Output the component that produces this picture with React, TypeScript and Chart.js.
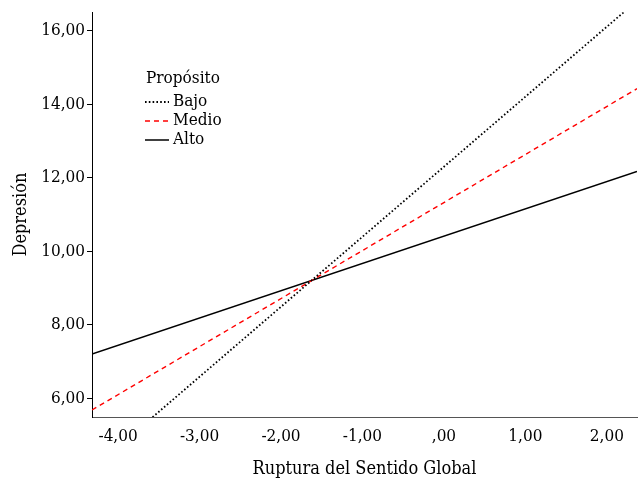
import { useEffect, useRef } from 'react';
import { Chart, registerables } from 'chart.js';
Chart.register(...registerables);

const xEnds = [-4.32, 2.37];
const bajo = [4.07, 16.81];
const medio = [5.68, 14.42];
const alto = [7.2, 12.17];
const seriesNames = ['Bajo', 'Medio', 'Alto'];
const legendTitle = 'Propósito';
const xTicks = [-4, -3, -2, -1, 0, 1, 2];
const yTicks = [6, 8, 10, 12, 14, 16];
const xTitle = 'Ruptura del Sentido Global';
const yTitle = 'Depresión';

const FONT = '"DejaVu Serif Condensed", "DejaVu Serif", serif';

const fmt = (v: number) =>
  Number(v).toFixed(2).replace('.', ',').replace(/^(-?)0,/, '$1,');

const legendPlugin = {
  id: 'customLegend',
  afterDraw(chart: any) {
    const ctx = chart.ctx;
    ctx.save();
    ctx.font = `17px ${FONT}`;
    ctx.fillStyle = '#000';
    ctx.textBaseline = 'middle';
    ctx.textAlign = 'left';
    ctx.fillText(legendTitle, 146, 79);
    const rows = [102, 121, 140];
    chart.data.datasets.forEach((ds: any, i: number) => {
      const y = rows[i];
      ctx.beginPath();
      ctx.strokeStyle = ds.borderColor;
      ctx.lineWidth = ds.borderWidth;
      ctx.setLineDash(ds.borderDash || []);
      ctx.moveTo(145, y);
      ctx.lineTo(169, y);
      ctx.stroke();
      ctx.setLineDash([]);
      ctx.fillStyle = '#000';
      ctx.fillText(ds.label, 173, y);
    });
    ctx.restore();
  },
};

export default function App() {
  const ref = useRef<HTMLCanvasElement | null>(null);
  useEffect(() => {
    if (!ref.current) return;
    const mk = (vals: number[]) => vals.map((y, i) => ({ x: xEnds[i], y }));
    const chart = new Chart(ref.current, {
      type: 'line',
      data: {
        datasets: [
          {
            label: seriesNames[0],
            data: mk(bajo),
            borderColor: '#000',
            borderWidth: 1.8,
            borderDash: [1.6, 2.2],
            pointRadius: 0,
            fill: false,
          },
          {
            label: seriesNames[1],
            data: mk(medio),
            borderColor: '#ff0000',
            borderWidth: 1.4,
            borderDash: [5, 4],
            pointRadius: 0,
            fill: false,
          },
          {
            label: seriesNames[2],
            data: mk(alto),
            borderColor: '#000',
            borderWidth: 1.5,
            pointRadius: 0,
            fill: false,
          },
        ],
      },
      options: {
        animation: false,
        responsive: false,
        devicePixelRatio: 1,
        layout: { padding: { top: 12, right: 3, left: 0, bottom: 0 } },
        plugins: { legend: { display: false }, tooltip: { enabled: false } },
        scales: {
          x: {
            type: 'linear',
            min: -4.32,
            max: 2.37,
            afterBuildTicks: (s: any) => {
              s.ticks = xTicks.map((v) => ({ value: v }));
            },
            afterFit: (s: any) => {
              s.height = 63;
            },
            ticks: {
              callback: (v: any) => fmt(v),
              font: { family: FONT, size: 17 },
              color: '#000',
              padding: 9,
              maxRotation: 0,
              autoSkip: false,
            },
            grid: { display: true, drawOnChartArea: false, drawTicks: false },
            border: { display: true, color: '#555', width: 1 },
            title: {
              display: true,
              text: xTitle,
              font: { family: FONT, size: 18 },
              color: '#000',
              padding: 0,
            },
          },
          y: {
            type: 'linear',
            min: 5.49,
            max: 16.5,
            afterBuildTicks: (s: any) => {
              s.ticks = yTicks.map((v) => ({ value: v }));
            },
            afterFit: (s: any) => {
              s.width = 92;
            },
            ticks: {
              callback: (v: any) => fmt(v),
              font: { family: FONT, size: 17 },
              color: '#000',
              padding: 2,
            },
            grid: {
              display: true,
              drawOnChartArea: false,
              drawTicks: true,
              tickLength: 5,
              color: '#000',
            },
            border: { display: true, color: '#000', width: 1 },
            title: {
              display: true,
              text: yTitle,
              font: { family: FONT, size: 18 },
              color: '#000',
              padding: 11,
            },
          },
        },
      },
      plugins: [legendPlugin],
    } as any);
    return () => chart.destroy();
  }, []);
  return (
    <div style={{ position: 'fixed', left: 0, top: 0, width: 640, height: 480, background: '#fff' }}>
      <canvas ref={ref} width={640} height={480} />
    </div>
  );
}
